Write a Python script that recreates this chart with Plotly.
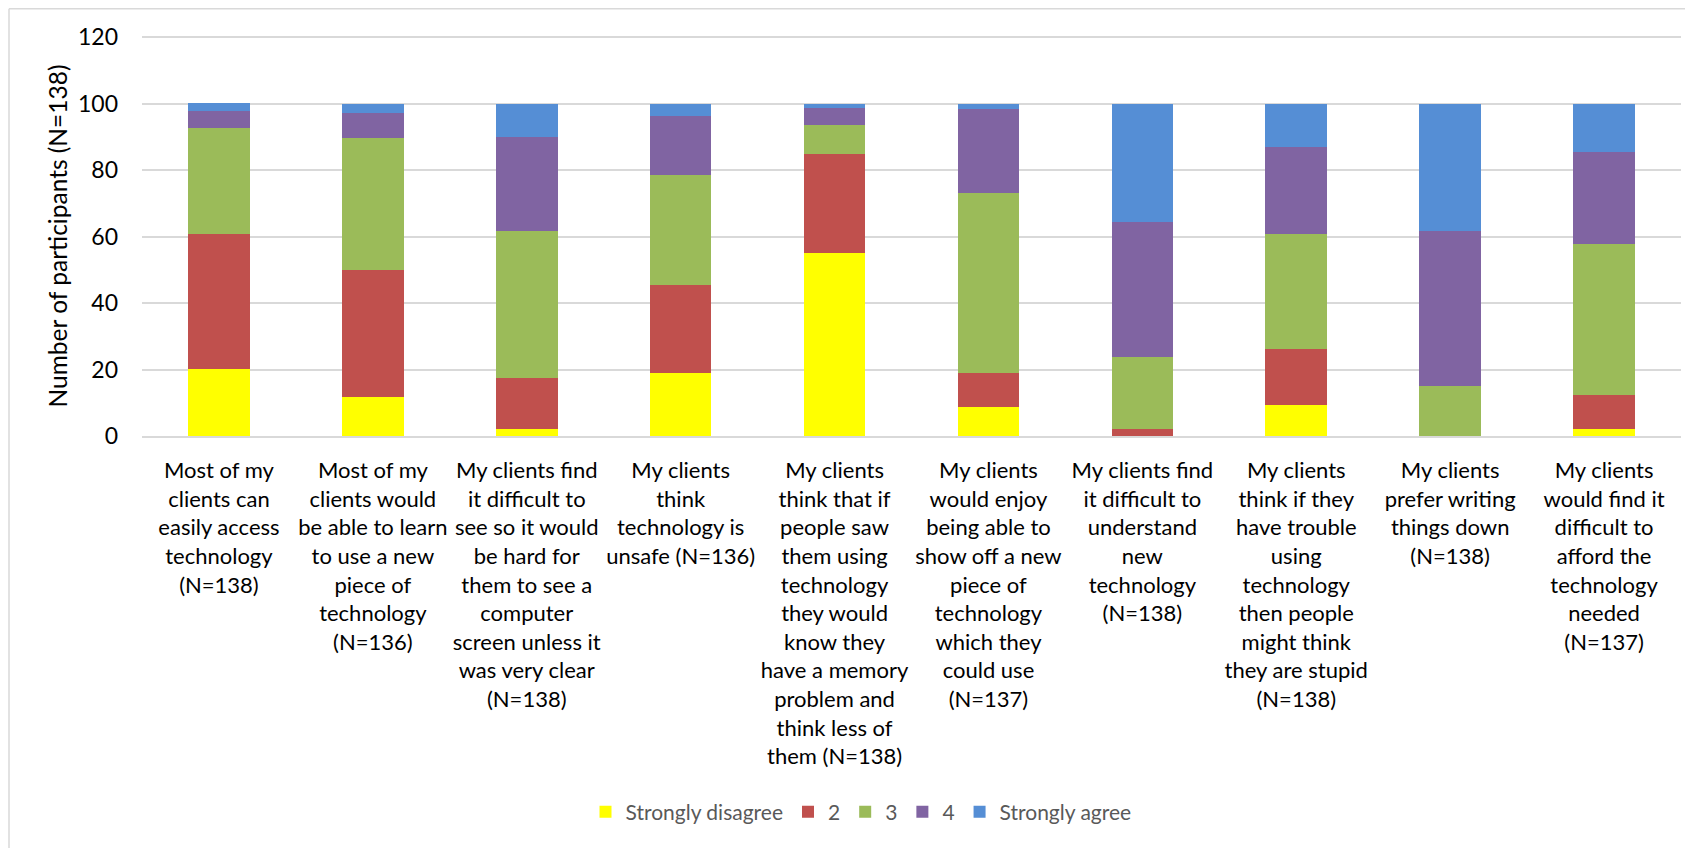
import plotly.graph_objects as go

categories = [
    "Most of my<br>clients can<br>easily access<br>technology<br>(N=138)",
    "Most of my<br>clients would<br>be able to learn<br>to use a new<br>piece of<br>technology<br>(N=136)",
    "My clients find<br>it difficult to<br>see so it would<br>be hard for<br>them to see a<br>computer<br>screen unless it<br>was very clear<br>(N=138)",
    "My clients<br>think<br>technology is<br>unsafe (N=136)",
    "My clients<br>think that if<br>people saw<br>them using<br>technology<br>they would<br>know they<br>have a memory<br>problem and<br>think less of<br>them (N=138)",
    "My clients<br>would enjoy<br>being able to<br>show off a new<br>piece of<br>technology<br>which they<br>could use<br>(N=137)",
    "My clients find<br>it difficult to<br>understand<br>new<br>technology<br>(N=138)",
    "My clients<br>think if they<br>have trouble<br>using<br>technology<br>then people<br>might think<br>they are stupid<br>(N=138)",
    "My clients<br>prefer writing<br>things down<br>(N=138)",
    "My clients<br>would find it<br>difficult to<br>afford the<br>technology<br>needed<br>(N=137)",
]

series_names = ["Strongly disagree", "2", "3", "4", "Strongly agree"]
strongly_disagree = [20.3, 11.8, 2.2, 19.1, 55.1, 8.8, 0.0, 9.4, 0.0, 2.2]
rating_2 = [40.6, 38.2, 15.2, 26.5, 29.7, 10.2, 2.2, 16.7, 0.0, 10.2]
rating_3 = [31.9, 39.7, 44.2, 33.1, 8.7, 54.0, 21.7, 34.8, 15.2, 45.3]
rating_4 = [5.1, 7.4, 28.3, 17.6, 5.1, 25.5, 40.6, 26.1, 46.4, 27.7]
strongly_agree = [2.2, 2.9, 10.1, 3.7, 1.4, 1.5, 35.5, 13.0, 38.4, 14.6]

y_ticks = [0, 20, 40, 60, 80, 100, 120]

colors = ["#FFFF00", "#C0504D", "#9BBB59", "#8064A2", "#558ED5"]
series = [strongly_disagree, rating_2, rating_3, rating_4, strongly_agree]

FONT = "Lato"

fig = go.Figure()
for name, vals, col in zip(series_names, series, colors):
    fig.add_trace(go.Bar(
        x=categories, y=vals, name=name,
        marker=dict(color=col, line=dict(width=0)),
    ))

# page has an 8px body margin, so the figure is 8px smaller than the window
W, H = 1685, 840
L, R, T, B = 134, 12, 28, 412
PW, PH = W - L - R, H - T - B

fig.update_layout(
    barmode="stack",
    bargap=0.6,
    width=W, height=H,
    margin=dict(l=L, r=R, t=T, b=B, autoexpand=False),
    paper_bgcolor="white",
    plot_bgcolor="white",
    font=dict(family=FONT, size=22, color="#000000"),
    legend=dict(
        orientation="h", x=(861 - 142) / PW, xanchor="center",
        y=-(812 - 436) / PH, yanchor="middle",
        font=dict(family=FONT, size=21, color="#595959"),
        traceorder="normal", itemclick=False,
    ),
    showlegend=True,
)
fig.update_xaxes(
    type="category",
    showgrid=False,
    showline=True, linecolor="#d9d9d9", linewidth=1.5,
    tickfont=dict(family=FONT, size=22, color="#000000"),
    ticks="",
    tickangle=0,
    ticklabelstandoff=14,
    automargin=False,
)
fig.update_yaxes(
    range=[0, 120.4],
    tickvals=y_ticks,
    showgrid=True, gridcolor="#d9d9d9", gridwidth=1.5,
    zeroline=False,
    showline=False,
    tickfont=dict(family=FONT, size=23, color="#000000"),
    ticklabelstandoff=23,
    title=dict(text="Number of participants (N=138)",
               font=dict(family=FONT, size=24.5, color="#000000"),
               standoff=3),
    automargin=False,
)

# outer chart border (top and left edges visible in the crop)
bx = (9 - 142) / PW
by = 1 + (T - 0.75) / PH
fig.add_shape(type="line", xref="paper", yref="paper",
              x0=bx, x1=1.1, y0=by, y1=by,
              line=dict(color="#d9d9d9", width=1.5))
fig.add_shape(type="line", xref="paper", yref="paper",
              x0=bx, x1=bx, y0=by, y1=-1.2,
              line=dict(color="#d9d9d9", width=1.5))

fig.write_html("out.html")
